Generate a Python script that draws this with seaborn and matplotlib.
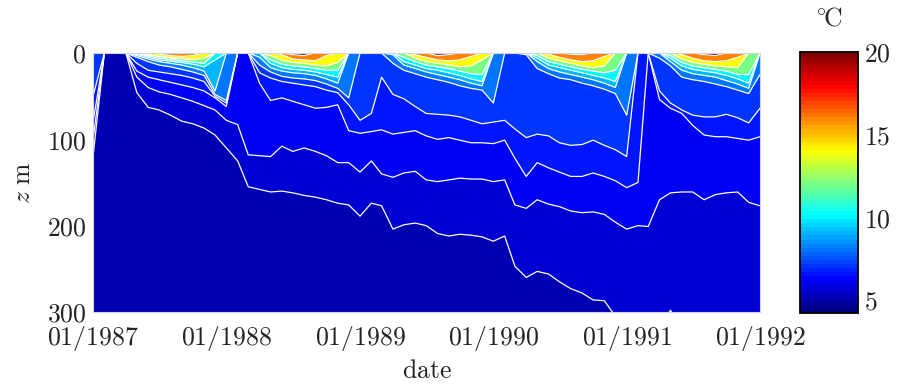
import numpy as np
import pandas as pd
import matplotlib
matplotlib.use("Agg")
import matplotlib.pyplot as plt
import matplotlib.dates as mdates
from matplotlib.colors import ListedColormap, Normalize
from matplotlib.cm import ScalarMappable
import seaborn as sns

sns.set_theme(style="white")
plt.rcParams["mathtext.fontset"] = "cm"
plt.rcParams["font.family"] = ["DejaVu Serif"]

n = np.nan
# monthly profiles, 01/1987 .. 01/1992
dates = pd.date_range("1987-01-01", "1992-01-01", freq="MS")

# depth (m) of each isotherm per month (nan = water there is colder than the isotherm)
iso_5_5 = [120, n, n, n, 46, 63, 66, 72, 79, 82, 87, 95,
           110, 125, 155, 158, 161, 160, 162, 165, 167, 170, 174, 176,
           189, 174, 177, 204, 199, 197, 200, 209, 212, 210, 211, 213,
           218, 212, 247, 260, 253, 256, 265, 273, 278, 286, 287, 305,
           315, 320, 320, 315, 298, 320, 325, 330, 330, 330, 330, 330, 330]
iso_6_0 = [100, n, n, n, 28, 40, 45, 48, 52, 56, 61, 66,
           78, 83, 118, 119, 120, 108, 114, 110, 114, 119, 127, 127,
           138, 125, 140, 144, 139, 137, 147, 149, 147, 145, 146, 146,
           149, 147, 176, 180, 170, 175, 178, 183, 185, 184, 187, 196,
           204, 200, 201, 170, 162, 161, 161, 170, 164, 162, 161, 173, 177]
iso_6_5 = [80, n, n, n, 21, 28, 31, 34, 37, 40, 44, 52,
           62, n, n, 35, 55, 52, 56, 60, 64, 63, 60, 90,
           93, 91, 89, 94, 92, 90, 96, 100, 98, 101, 104, 104,
           105, 101, 122, 143, 127, 133, 138, 143, 143, 139, 143, 148,
           156, 150, n, 54, 64, 70, 84, 95, 97, 97, 99, 101, 97]
iso_7_0 = [50, n, n, n, 12, 20, 22, 24, 26, 29, 33, 50,
           58, n, n, 23, 29, 33, 35, 37, 39, 43, 46, 60,
           78, 70, 28, 48, 53, 62, 70, 71, 72, 74, 78, 82,
           80, 78, 88, 98, 94, 96, 104, 107, 106, 101, 107, 112,
           120, n, n, 44, 58, 66, 72, 74, 74, 71, 75, 81, 64]
iso_8 = [n, n, n, n, 5, 10, 14, 16, 19, 22, 26, 48,
         55, n, n, 14, 22, 27, 29, 30, 32, 36, 41, 52,
         n, n, n, 12, 20, 24, 28, 31, 34, 38, 41, 43,
         58, n, n, 2, 18, 24, 29, 31, 35, 38, 42, 47,
         72, n, n, 6, 15, 28, 31, 33, 36, 39, 43, 47, 25]
iso_9 = [n, n, n, n, 3, 7, 10, 12, 14, 17, 21, 44,
         n, n, n, 5, 17, 21, 23, 24, 26, 30, 35, n,
         n, n, n, 2, 14, 18, 22, 25, 28, 31, 35, 38,
         n, n, n, n, 10, 18, 22, 25, 28, 31, 35, 40,
         n, n, n, n, 10, 20, 24, 26, 28, 32, 36, 41, n]
iso_10 = [n, n, n, n, 1.5, 5, 8, 9.5, 11, 13, 16, 8,
          n, n, n, n, 12, 17, 19, 20, 22, 25, 28, n,
          n, n, n, n, 10, 14, 18, 20, 23, 26, 30, 33,
          n, n, n, n, 6, 14, 17, 20, 23, 26, 29, 33,
          n, n, n, n, 6, 15, 19, 21, 23, 26, 30, 35, n]
iso_12 = [n, n, n, n, n, 3.5, 6, 7.5, 9, 10.5, 12, n,
          n, n, n, n, 8, 13, 15, 16, 18, 20, 20, n,
          n, n, n, n, 5, 10, 14, 16, 18, 21, 24, 25,
          n, n, n, n, 3, 10, 13, 16, 19, 21, 23, 20,
          n, n, n, n, 3, 11, 15, 17, 19, 21, 25, 25, n]
iso_14 = [n, n, n, n, n, 2, 4, 5.5, 6.5, 7.5, 6, n,
          n, n, n, n, 3, 8.5, 11, 12, 14, 15, 11, n,
          n, n, n, n, n, 6, 10, 12, 14, 16, 15, 8,
          n, n, n, n, n, 6, 9, 12, 15, 17, 15, n,
          n, n, n, n, n, 7, 11, 13, 15, 16, 17, n, n]
iso_16 = [n, n, n, n, n, n, 1.5, 3, 4, 3, n, n,
          n, n, n, n, n, 2, 7, 8, 9, 3, n, n,
          n, n, n, n, n, 2, 5, 8, 9, 8, 4, n,
          n, n, n, n, n, 1.5, 5, 8, 10, 9, 4, n,
          n, n, n, n, n, 2, 6, 9, 10, 9, 5, n, n]
iso_20 = [n, n, n, n, n, n, n, n, n, n, n, n,
          n, n, n, n, n, n, 2, 3, n, n, n, n,
          n, n, n, n, n, n, n, 3, 2, n, n, n,
          n, n, n, n, n, n, n, 1.5, 2, n, n, n,
          n, n, n, n, n, n, n, 2, 3, n, n, n, n]

levels = [5.5, 6.0, 6.5, 7.0, 8.0, 9.0, 10.0, 12.0, 14.0, 16.0, 20.0]
isotherms = [iso_5_5, iso_6_0, iso_6_5, iso_7_0, iso_8, iso_9, iso_10,
             iso_12, iso_14, iso_16, iso_20]


def jet(f):
    f = np.asarray(f, dtype=float)
    r = np.clip(1.5 - np.abs(4 * f - 3), 0, 1)
    g = np.clip(1.5 - np.abs(4 * f - 2), 0, 1)
    b = np.clip(1.5 - np.abs(4 * f - 1), 0, 1)
    return np.stack([r, g, b], axis=-1)


cmin, cmax = 4.2, 20.0
deep_color = tuple(jet((5.0 - cmin) / (cmax - cmin)))
band_colors = [tuple(c) for c in jet((np.array(levels) - cmin) / (cmax - cmin))]

fig = plt.figure(figsize=(8.98, 3.89), dpi=100)
ax = fig.add_axes([0.1036, 0.198, 0.7427, 0.6658])
x = mdates.date2num(dates)
ax.set_facecolor(deep_color)

# paint from the surface down to each isotherm, coldest first
for lev, d, col in zip(levels, isotherms, band_colors):
    d = np.asarray(d, dtype=float)
    ax.fill_between(x, 0, np.where(np.isnan(d), 0, d), color=col, lw=0,
                    antialiased=True)

# isotherm lines (each run reaches the surface where the isotherm outcrops)
for d in isotherms:
    d = np.asarray(d, dtype=float)
    present = ~np.isnan(d)
    i, N = 0, len(d)
    while i < N:
        if present[i]:
            j = i
            while j + 1 < N and present[j + 1]:
                j += 1
            lo, hi = max(i - 1, 0), min(j + 1, N - 1)
            seg = d[lo:hi + 1]
            ax.plot(x[lo:hi + 1], np.where(np.isnan(seg), 0, seg),
                    color="white", lw=0.9, solid_joinstyle="round")
            i = j + 1
        else:
            i += 1

ax.set_xlim(x[0], x[-1])
ax.set_ylim(300, 0)

fs = 18.5
years = pd.to_datetime(["1987-01-01", "1988-01-01", "1989-01-01", "1990-01-01",
                        "1991-01-01", "1992-01-01"])
xtick_labels = [r"$\mathrm{01/%d}$" % y.year for y in years]
ax.set_xticks(mdates.date2num(years))
ax.set_xticklabels(xtick_labels, fontsize=fs)
ax.set_yticks([0, 100, 200, 300])
ax.set_yticklabels([r"$0$", r"$100$", r"$200$", r"$300$"], fontsize=fs)
ax.tick_params(axis="both", direction="in", length=3, color="#9a9aa8",
               labelcolor="#222222")
ax.tick_params(axis="x", pad=9)
ax.tick_params(axis="y", pad=5)
for s in ax.spines.values():
    s.set_color("#d4d4e2")
    s.set_linewidth(0.8)
ax.set_xlabel(r"$\mathrm{date}$", fontsize=fs, color="#222222", labelpad=3)
ax.set_ylabel(r"$z\ \mathrm{m}$", fontsize=fs, color="#222222", labelpad=8)

cax = fig.add_axes([0.8909, 0.1954, 0.0646, 0.671])
cmap64 = ListedColormap(jet(np.linspace(0, 1, 64)))
sm = ScalarMappable(norm=Normalize(cmin, cmax), cmap=cmap64)
cb = fig.colorbar(sm, cax=cax)
cb.set_ticks([5, 10, 15, 20])
cb.set_ticklabels([r"$5$", r"$10$", r"$15$", r"$20$"])
cax.tick_params(direction="in", length=4, width=0.8, left=True, right=True,
                labelsize=fs, pad=4, color="black", labelcolor="#222222")
cb.outline.set_linewidth(1.3)
cb.outline.set_edgecolor("black")
fig.text(829 / 898, 1 - 18 / 389, r"$^{\circ}\!\mathrm{C}$", ha="center",
         va="center", fontsize=fs, color="#222222")

fig.savefig("out.png", dpi=100)
